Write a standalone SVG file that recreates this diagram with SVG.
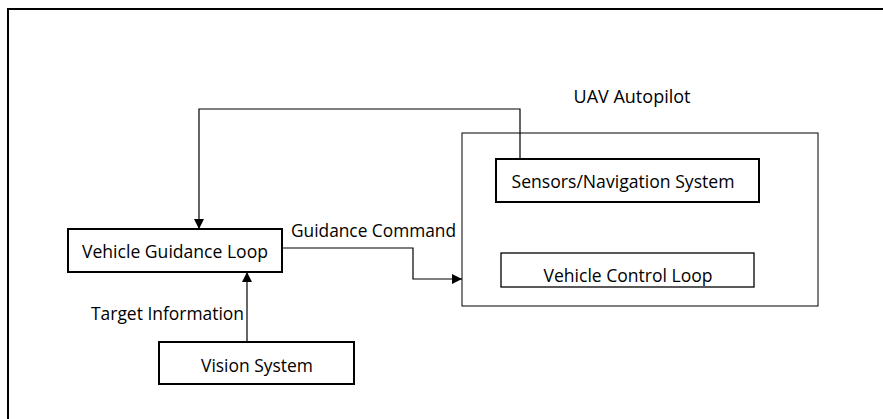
<svg xmlns="http://www.w3.org/2000/svg" width="883" height="419" viewBox="0 0 883 419">
<defs>
<style>
text{font-family:"Open Sans","Liberation Sans",Arial,sans-serif;font-size:18.5px;fill:#000}
.thick{fill:#fff;stroke:#000;stroke-width:2}
.thin{fill:none;stroke:#000;stroke-width:1}
.conn{fill:none;stroke:#000;stroke-width:1.2}
</style>
<marker id="arr" viewBox="0 0 10 10" refX="10" refY="5" markerWidth="10" markerHeight="10" markerUnits="userSpaceOnUse" orient="auto">
<path d="M0,0 L10,5 L0,10 z" fill="#000"/>
</marker>
</defs>
<rect width="883" height="419" fill="#fff"/>
<path d="M8,419 V9 H883" fill="none" stroke="#000" stroke-width="2"/>
<g id="autopilot">
<rect x="462" y="133" width="356" height="173" class="thin"/>
<text x="632" y="103" text-anchor="middle" textLength="117" lengthAdjust="spacingAndGlyphs">UAV Autopilot</text>
</g>
<g id="connectors">
<path d="M520,159 V109 H199 V229" class="conn" marker-end="url(#arr)"/>
<path d="M282,248 H413 V279 H462" class="conn" marker-end="url(#arr)"/>
<path d="M247,342 V272" class="conn" marker-end="url(#arr)"/>
<text x="291" y="237" textLength="165" lengthAdjust="spacingAndGlyphs">Guidance Command</text>
<text x="91" y="320" textLength="153" lengthAdjust="spacingAndGlyphs">Target Information</text>
</g>
<g id="sensors">
<rect x="496" y="159" width="263" height="43" class="thick"/>
<text x="623" y="188" text-anchor="middle" textLength="223" lengthAdjust="spacingAndGlyphs">Sensors/Navigation System</text>
</g>
<g id="control">
<rect x="501" y="253" width="253" height="34" fill="#fff" stroke="#000" stroke-width="1.3"/>
<text x="628" y="282" text-anchor="middle" textLength="169" lengthAdjust="spacingAndGlyphs">Vehicle Control Loop</text>
</g>
<g id="guidance">
<rect x="68" y="229" width="214" height="43" class="thick"/>
<text x="175" y="258" text-anchor="middle" textLength="186" lengthAdjust="spacingAndGlyphs">Vehicle Guidance Loop</text>
</g>
<g id="vision">
<rect x="159" y="342" width="195" height="42" class="thick"/>
<text x="257" y="372" text-anchor="middle" textLength="112" lengthAdjust="spacingAndGlyphs">Vision System</text>
</g>
</svg>
